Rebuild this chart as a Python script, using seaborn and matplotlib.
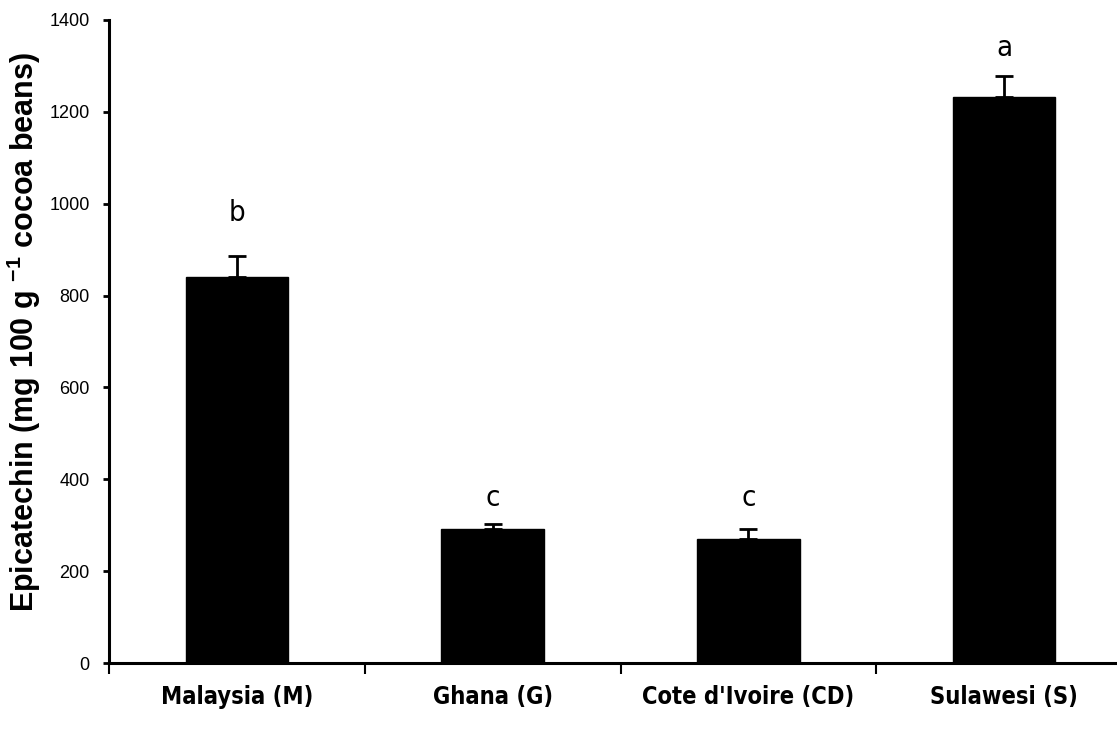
import matplotlib
matplotlib.use("Agg")
import matplotlib.pyplot as plt
from matplotlib import font_manager
from matplotlib.font_manager import FontProperties
import numpy as np
import pandas as pd
import seaborn as sns

# Epicatechin content of cocoa beans by origin
origins = ["Malaysia (M)", "Ghana (G)", "Cote d'Ivoire (CD)", "Sulawesi (S)"]
epicatechin = [841, 292, 270, 1232]
std_err = [46, 11, 22, 45]
group_letters = ["b", "c", "c", "a"]
letter_y = [980, 360, 360, 1340]
y_ticks = [0, 200, 400, 600, 800, 1000, 1200, 1400]

sns.set_theme(style="white")
plt.rcParams["font.family"] = ["Liberation Sans", "DejaVu Sans"]
plt.rcParams["text.color"] = "black"
plt.rcParams["axes.labelcolor"] = "black"
plt.rcParams["xtick.color"] = "black"
plt.rcParams["ytick.color"] = "black"
plt.rcParams["mathtext.fontset"] = "custom"
plt.rcParams["mathtext.rm"] = "Liberation Sans"
plt.rcParams["mathtext.bf"] = "Liberation Sans:bold"

FONT_FILES = [f.fname for f in font_manager.fontManager.ttflist]


def font_from_file(keys, size, fallback):
    """Return the first installed face whose file name matches one of keys."""
    for key in keys:
        for path in FONT_FILES:
            if key in path.lower().replace("_", "").replace(" ", ""):
                return FontProperties(fname=path, size=size)
    return FontProperties(size=size, **fallback)


xlab_font = font_from_file(["liberationsansnarrow-bold.", "dejavusanscondensed-bold."], 17,
                           dict(family="DejaVu Sans", stretch="condensed", weight="bold"))
letter_font = font_from_file(["liberationsansnarrow-regular.", "dejavusanscondensed."], 21,
                             dict(family="DejaVu Sans", stretch="condensed"))
ylab_font = font_from_file(["liberationsans-bold."], 22,
                           dict(family="Liberation Sans", weight="bold"))
tick_font = font_from_file(["liberationsans-regular."], 13,
                           dict(family="Liberation Sans"))

df = pd.DataFrame({"origin": origins, "epicatechin": epicatechin})

fig = plt.figure(figsize=(11.17, 7.34), dpi=100)
ax = fig.add_axes([109 / 1117, 1 - 663 / 734, (1132 - 109) / 1117, (663 - 20) / 734])

sns.barplot(data=df, x="origin", y="epicatechin", color="black",
            saturation=1, width=0.4, errorbar=None, ax=ax)
for p in ax.patches:
    p.set_edgecolor("black")

xpos = np.arange(len(origins))
ax.errorbar(xpos, epicatechin, yerr=[np.zeros(len(origins)), std_err],
            fmt="none", ecolor="black", elinewidth=2, capsize=6.5, capthick=2)

for x, lab, ly in zip(xpos, group_letters, letter_y):
    ax.text(x, ly, lab, ha="center", va="center", fontproperties=letter_font, color="black")

ax.set_xlim(-0.5, 3.5)
ax.set_ylim(0, 1400)
ax.set_yticks(y_ticks)
ax.set_yticklabels([str(v) for v in y_ticks])
for t in ax.get_yticklabels():
    t.set_fontproperties(tick_font)
    t.set_color("black")

ax.set_xticks(xpos)
ax.set_xticklabels(origins)
for t in ax.get_xticklabels():
    t.set_fontproperties(xlab_font)
    t.set_color("black")
ax.tick_params(axis="x", which="major", length=0, pad=16)
ax.set_xticks(np.arange(len(origins)) - 0.5, minor=True)
ax.tick_params(axis="x", which="minor", bottom=True, length=8, width=1.5,
               color="black", direction="out")
ax.tick_params(axis="y", which="major", left=True, length=4, width=2,
               color="black", direction="out", pad=10)

ax.set_xlabel("")
ax.set_ylabel(r"Epicatechin (mg 100 g $^{\mathbf{-1}}$ cocoa beans)",
              fontproperties=ylab_font, color="black")
ax.yaxis.set_label_coords(-0.065, 0.515)

for side in ["top", "right"]:
    ax.spines[side].set_visible(False)
for side in ["left", "bottom"]:
    ax.spines[side].set_color("black")
    ax.spines[side].set_linewidth(2.2)

fig.savefig("out.png", dpi=100)
